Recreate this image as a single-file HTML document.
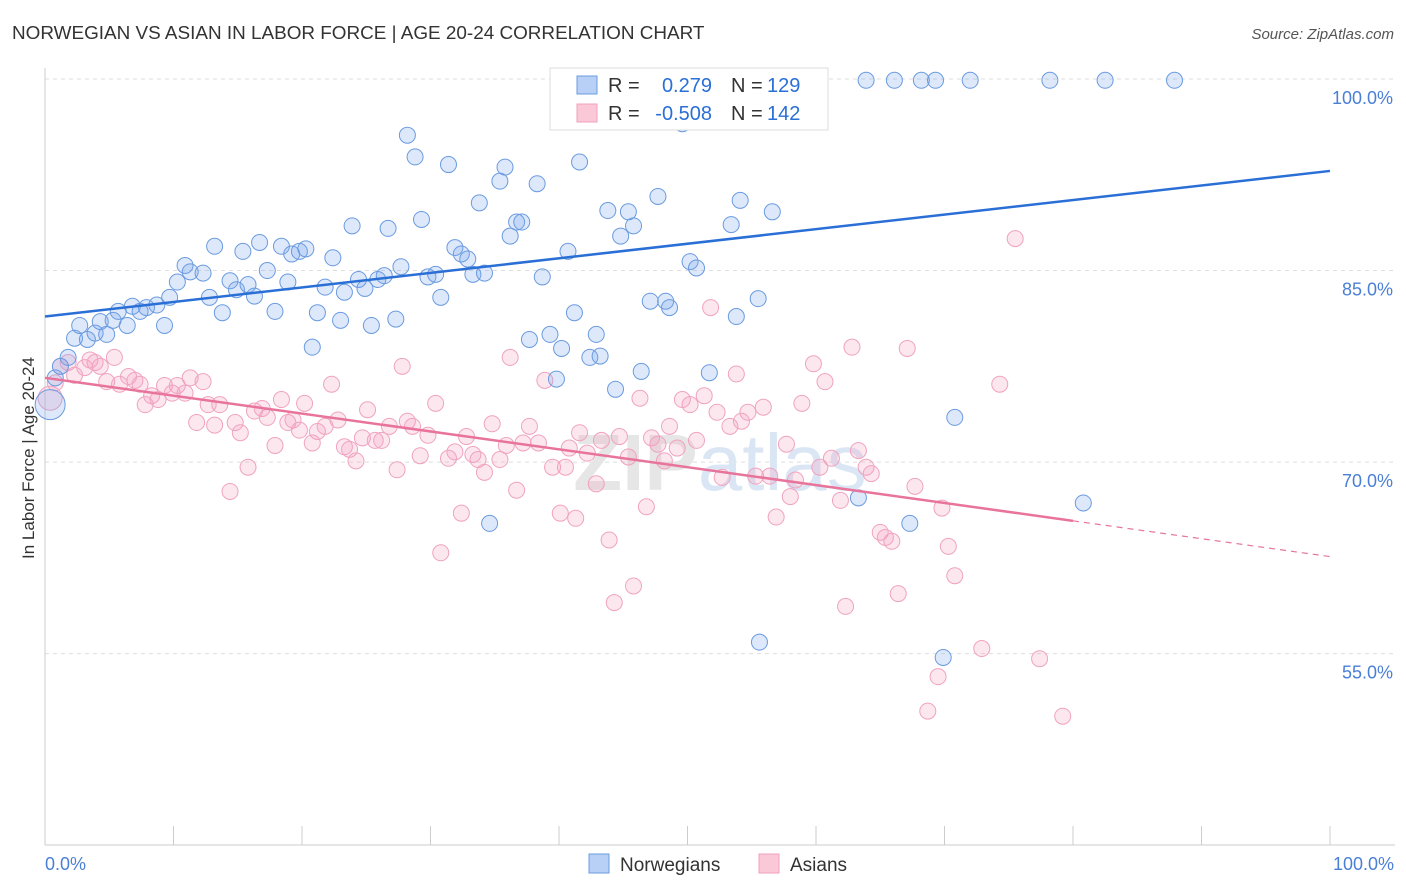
<!DOCTYPE html>
<html><head><meta charset="utf-8">
<style>
body{margin:0;background:#fff;font-family:"Liberation Sans",sans-serif;}
svg{display:block}
</style></head>
<body>
<svg id="chart" width="1406" height="892" xmlns="http://www.w3.org/2000/svg">
<text x="12" y="39" font-size="18.9" fill="#333">NORWEGIAN VS ASIAN IN LABOR FORCE | AGE 20-24 CORRELATION CHART</text>
<text x="1394" y="39" font-size="15" fill="#555" font-style="italic" text-anchor="end">Source: ZipAtlas.com</text>
<g id="grid"></g>
<g id="yticks"></g>
<line x1="45" y1="68" x2="45" y2="845" stroke="#ccc"/>
<line x1="45" y1="845" x2="1395" y2="845" stroke="#ccc"/>
<g id="xticks"></g>
<text x="45" y="870" font-size="18" fill="#4a7fd6">0.0%</text>
<text x="1394" y="870" font-size="18" fill="#4a7fd6" text-anchor="end">100.0%</text>
<text transform="translate(34,458) rotate(-90)" font-size="17" fill="#333" text-anchor="middle">In Labor Force | Age 20-24</text>
<text x="720" y="490" font-size="80" font-weight="bold" fill="#e6e6e6" text-anchor="middle">ZIP<tspan fill="#dbe6f5" font-weight="normal">atlas</tspan></text>
<g id="pinkpts"></g>
<g id="bluepts"></g>
<g id="lines"></g>
<g>
<rect x="550" y="68" width="278" height="62" fill="#fff" stroke="#ddd"/>
<rect x="577" y="76" width="20" height="18" fill="#b8d0f5" stroke="#6a9be0"/>
<rect x="577" y="104" width="20" height="18" fill="#fbc8d8" stroke="#f0a0bd"/>
<text y="92" font-size="20" fill="#333"><tspan x="608">R =</tspan><tspan x="712" text-anchor="end" fill="#2a6fd6">0.279</tspan><tspan x="731">N =</tspan><tspan x="767" fill="#2a6fd6">129</tspan></text>
<text y="120" font-size="20" fill="#333"><tspan x="608">R =</tspan><tspan x="712" text-anchor="end" fill="#2a6fd6">-0.508</tspan><tspan x="731">N =</tspan><tspan x="767" fill="#2a6fd6">142</tspan></text>
</g>
<g>
<rect x="589" y="854" width="20" height="19" fill="#b8d0f5" stroke="#6a9be0"/>
<text x="620" y="871" font-size="19" fill="#333">Norwegians</text>
<rect x="759" y="854" width="20" height="19" fill="#fbc8d8" stroke="#f0a0bd"/>
<text x="790" y="871" font-size="19" fill="#333">Asians</text>
</g>
</svg>
<script>
const yTicks=[100,85,70,55];
const xTickVals=[0,10,20,30,40,50,60,70,80,90,100];
const blueX=[0.4,0.8,1.8,1.2,2.3,2.7,3.3,3.9,4.3,4.8,5.3,5.7,6.4,6.8,7.4,7.9,8.7,9.3,9.7,10.3,10.9,11.3,12.3,12.8,13.2,13.8,14.4,14.9,15.4,15.8,16.3,16.7,17.3,17.9,18.4,18.9,19.2,19.8,20.3,20.8,21.2,21.8,22.4,23.0,23.3,23.9,24.4,24.9,25.4,25.9,26.4,26.7,27.3,27.7,28.2,28.8,29.3,29.8,30.4,30.8,31.4,31.9,32.4,32.9,33.3,33.8,34.2,34.6,35.4,35.8,36.2,36.7,37.1,37.7,38.3,38.7,39.3,39.8,40.2,40.7,41.2,41.6,42.4,42.9,43.2,43.8,44.4,44.8,45.4,45.8,46.4,47.1,47.7,48.3,48.6,50.2,50.7,51.7,53.4,53.8,54.1,55.5,55.6,56.6,63.3,67.3,69.9,70.8,80.8,47.1,56.8,58.7,63.9,66.1,68.2,69.3,72.0,78.2,82.5,87.9,49.6];
const blueY=[74.5,76.6,78.2,77.5,79.7,80.7,79.6,80.1,81.0,80.0,81.1,81.8,80.7,82.2,81.8,82.1,82.3,80.7,82.9,84.1,85.4,84.9,84.8,82.9,86.9,81.7,84.2,83.5,86.5,83.9,83.0,87.2,85.0,81.8,86.9,84.1,86.3,86.5,86.7,79.0,81.7,83.7,86.0,81.1,83.3,88.5,84.3,83.6,80.7,84.3,84.6,88.3,81.2,85.3,95.6,93.9,89.0,84.5,84.7,82.9,93.3,86.8,86.3,85.9,84.7,90.3,84.8,65.2,92.0,93.1,87.7,88.8,88.8,79.6,91.8,84.5,80.0,76.5,78.9,86.5,81.7,93.5,78.2,80.0,78.3,89.7,75.7,87.7,89.6,88.5,77.1,82.6,90.8,82.6,82.1,85.7,85.2,77.0,88.6,81.4,90.5,82.8,55.9,89.6,67.2,65.2,54.7,73.5,66.8,99.9,99.9,99.9,99.9,99.9,99.9,99.9,99.9,99.9,99.9,99.9,96.5];
const pinkX=[0.4,0.8,1.2,1.8,2.3,3.1,3.5,3.9,4.3,4.8,5.4,5.8,6.5,7.0,7.4,7.8,8.3,8.8,9.3,9.9,10.3,10.9,11.3,11.8,12.3,12.7,13.2,13.6,14.4,14.8,15.2,15.8,16.3,16.9,17.3,17.9,18.4,18.9,19.3,19.8,20.2,20.8,21.2,21.8,22.3,22.8,23.3,23.7,24.2,24.7,25.1,25.7,26.2,26.8,27.4,27.8,28.2,28.6,29.2,29.8,30.4,30.8,31.4,31.9,32.4,32.8,33.3,33.7,34.2,34.8,35.4,35.9,36.2,36.7,37.2,37.7,38.4,38.9,39.5,40.1,40.5,40.8,41.3,41.6,42.2,42.9,43.3,43.9,44.3,44.7,45.4,45.8,46.3,46.8,47.2,47.7,48.2,48.6,49.2,49.6,50.2,50.7,51.3,51.8,52.3,52.7,53.3,53.8,54.2,54.7,55.3,55.9,56.4,56.9,57.7,58.0,58.4,58.9,59.8,60.3,60.7,61.2,61.9,62.3,62.8,63.3,63.9,64.3,65.0,65.4,65.9,66.4,67.1,67.7,68.7,69.5,69.8,70.3,70.8,72.9,74.3,75.5,77.4,79.2];
const pinkY=[75.0,76.2,77.5,77.8,76.8,77.4,78.0,77.8,77.5,76.3,78.2,76.1,76.7,76.4,76.1,74.5,75.2,74.9,76.0,75.4,76.0,75.4,76.6,73.1,76.3,74.5,72.9,74.5,67.7,73.1,72.3,69.6,74.0,74.2,73.5,71.3,74.9,73.1,73.3,72.5,74.6,71.5,72.4,72.8,76.1,73.3,71.2,71.0,70.1,71.9,74.1,71.7,71.7,72.8,69.4,77.5,73.2,72.8,70.5,72.1,74.6,62.9,70.3,70.8,66.0,72.0,70.6,70.2,69.2,73.0,70.2,71.3,78.2,67.8,71.5,72.8,71.5,76.4,69.6,66.0,69.6,71.1,65.6,72.3,70.7,68.3,71.7,63.9,59.0,72.0,70.4,60.3,75.0,66.5,71.9,71.4,70.1,72.8,71.1,74.9,74.5,71.7,75.2,82.1,73.9,68.8,72.8,76.9,73.2,73.9,68.9,74.3,68.9,65.7,71.4,67.3,68.6,74.6,77.7,69.6,76.3,70.3,67.0,58.7,79.0,70.9,69.6,69.1,64.5,64.1,63.8,59.7,78.9,68.1,50.5,53.2,66.4,63.4,61.1,55.4,76.1,87.5,54.6,50.1];
const blueTrend=[81.4,92.8];
const pinkTrend=[76.6,65.4,62.6];

const NS='http://www.w3.org/2000/svg';
const sx=v=>45+v*12.85;
const sy=v=>79+(100-v)*12.77;
function mk(tag,attrs,parent){const e=document.createElementNS(NS,tag);for(const k in attrs)e.setAttribute(k,attrs[k]);document.getElementById(parent).appendChild(e);return e;}
yTicks.forEach(t=>{
  const l=mk('line',{x1:45,x2:1395,y1:sy(t),y2:sy(t),stroke:'#ddd','stroke-dasharray':'4,4'},'grid');
  
  
  const tx=mk('text',{x:1393,y:sy(t)+25,'font-size':18,fill:'#4a7fd6','text-anchor':'end'},'yticks');
  tx.textContent=t.toFixed(1)+'%';
  
  
});
xTickVals.forEach(t=>{
  const l=mk('line',{x1:sx(t),x2:sx(t),y1:826,y2:845,stroke:'#ccc'},'xticks');
  
  
});
pinkX.forEach((x,i)=>{
  const c=mk('circle',{cx:sx(x),cy:sy(pinkY[i]),r:i===0?12:8,fill:'rgba(244,160,190,0.25)',stroke:'#f0a3bf','stroke-width':1},'pinkpts');
  
  
});
blueX.forEach((x,i)=>{
  const c=mk('circle',{cx:sx(x),cy:sy(blueY[i]),r:i===0?15:8,fill:'rgba(120,165,235,0.25)',stroke:'#6a9be0','stroke-width':1},'bluepts');
  
  
});
const bl=mk('line',{x1:sx(0),y1:sy(blueTrend[0]),x2:sx(100),y2:sy(blueTrend[1]),stroke:'#2a6fd6','stroke-width':2.5},'lines');


const pl=mk('line',{x1:sx(0),y1:sy(pinkTrend[0]),x2:sx(80),y2:sy(pinkTrend[1]),stroke:'#e8749c','stroke-width':2.5},'lines');


const pd=mk('line',{x1:sx(80),y1:sy(pinkTrend[1]),x2:sx(100),y2:sy(pinkTrend[2]),stroke:'#e8749c','stroke-width':1.2,'stroke-dasharray':'6,5'},'lines');


</script>
</body></html>
